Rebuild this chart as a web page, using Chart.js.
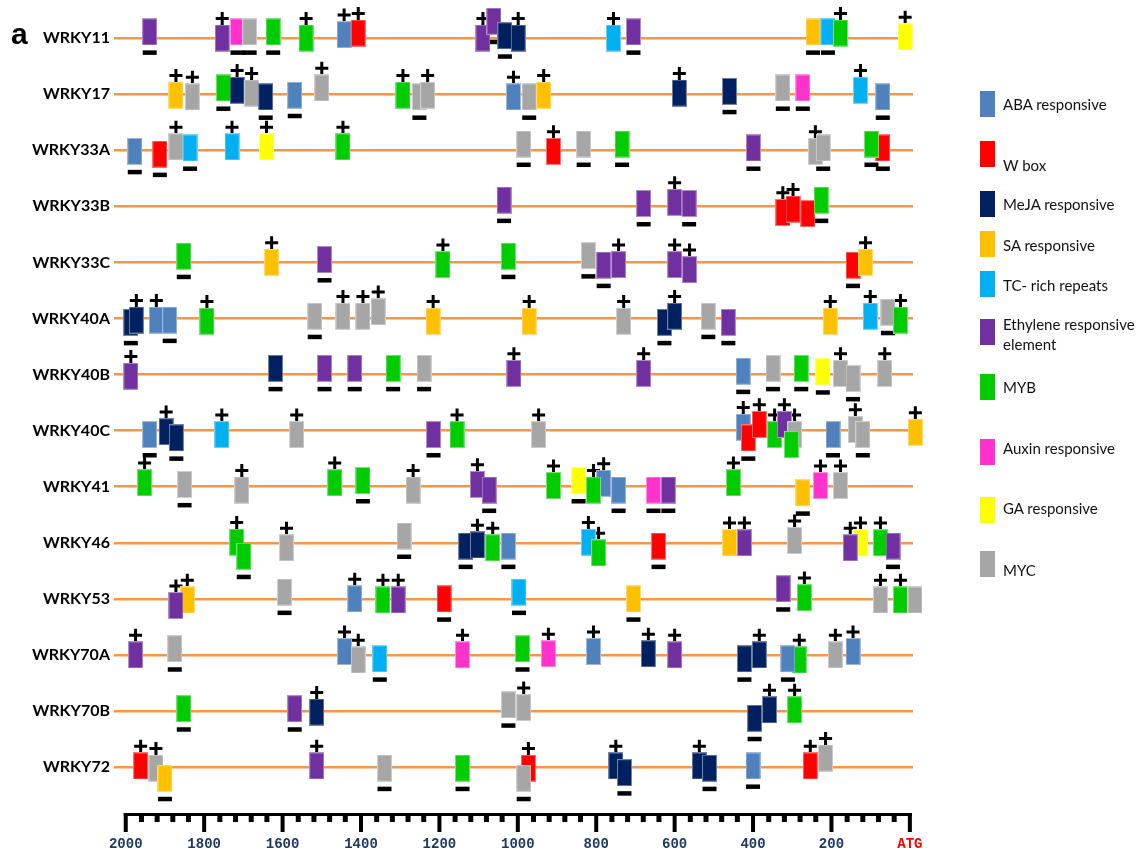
<!DOCTYPE html>
<html>
<head>
<meta charset="utf-8">
<script src="https://cdn.jsdelivr.net/npm/chart.js@4.4.1/dist/chart.umd.min.js"></script>
<style>
  body { margin: 0; background: #fff; }
  #wrap { position: relative; width: 1148px; height: 848px; }
  #panel { position: absolute; left: 11px; top: 17px; font: bold 30px "Liberation Sans", Arial, sans-serif; color: #000; }
  .sw { position: absolute; left: 980px; width: 15px; height: 26px; }
  .lt { position: absolute; left: 1003px; width: 142px; font: 15px Lato, "Open Sans", sans-serif; line-height: 20px; color: #111; }
</style>
</head>
<body>
<div id="wrap">
  <canvas id="myChart" width="1148" height="848"></canvas>
  <div id="panel">a</div>
  <div id="legend"></div>
</div>
<script>
// rows, top to bottom
const rowNames = ['WRKY11', 'WRKY17', 'WRKY33A', 'WRKY33B', 'WRKY33C', 'WRKY40A', 'WRKY40B',
                  'WRKY40C', 'WRKY41', 'WRKY46', 'WRKY53', 'WRKY70A', 'WRKY70B', 'WRKY72'];

// element types (code -> legend label / colour)
const typeCodes = ['A', 'W', 'J', 'S', 'T', 'E', 'M', 'X', 'G', 'C'];
const typeLabels = ['ABA responsive', 'W box', 'MeJA responsive', 'SA responsive', 'TC- rich repeats',
                    'Ethylene responsive element', 'MYB', 'Auxin responsive', 'GA responsive', 'MYC'];
const typeColors = ['#4F81BD', '#FF0000', '#002060', '#FFC000', '#00B0F0',
                    '#7030A0', '#00CC00', '#FF33CC', '#FFFF00', '#A6A6A6'];

// x axis labels (bp upstream of ATG)
const tickValues = [2000, 1800, 1600, 1400, 1200, 1000, 800, 600, 400, 200, 0];

// each element: [bp upstream, type, strand, lift above the line (rows)]
const wrky11 = [[1939,'E','-',0.11],[1754,'E','+',0],[1715,'X','-',0.11],[1684,'C','-',0.11],[1624,'M','-',0.11],
  [1540,'M','+',0],[1443,'A','+',0.06],[1407,'W','+',0.09],[1089,'E','+',0],[1061,'E','-',0.3],
  [1033,'J','-',0.04],[999,'J','+',0],[756,'T','+',0],[705,'E','-',0.11],[247,'S','-',0.11],
  [209,'T','-',0.11],[177,'M','+',0.09],[12,'G','+',0.02]];
const wrky17 = [[1872,'S','+',-0.02],[1830,'C','+',-0.05],[1751,'M','-',0.11],[1716,'J','+',0.07],[1679,'C','+',0.02],
  [1643,'J','-',-0.05],[1569,'A','-',-0.02],[1500,'C','+',0.11],[1293,'M','+',-0.02],[1251,'C','-',-0.05],
  [1230,'C','+',-0.02],[1011,'A','+',-0.05],[971,'C','-',-0.05],[934,'S','+',-0.02],[588,'J','+',0.02],
  [460,'J','-',0.05],[324,'C','-',0.11],[273,'X','-',0.11],[126,'T','+',0.07],[69,'A','-',-0.05]];
const wrky33a = [[1977,'A','-',-0.02],[1913,'W','-',-0.07],[1872,'C','+',0.06],[1836,'T','-',0.04],[1729,'T','+',0.06],
  [1641,'G','+',0.06],[1446,'M','+',0.06],[985,'C','-',0.11],[909,'W','+',-0.02],[832,'C','-',0.11],
  [734,'M','-',0.11],[399,'E','-',0.04],[241,'C','+',-0.02],[221,'C','-',0.04],[69,'W','-',0.04],[98,'M','-',0.11]];
const wrky33b = [[1035,'E','-',0.11],[679,'E','-',0.05],[600,'E','+',0.07],[563,'E','-',0.05],[324,'W','+',-0.11],
  [298,'W','+',-0.05],[260,'W','0',-0.13],[226,'M','-',0.11]];
const wrky33c = [[1852,'M','-',0.11],[1628,'S','+',0],[1493,'E','-',0.05],[1191,'M','+',-0.04],[1024,'M','-',0.11],
  [820,'C','-',0.12],[781,'E','-',-0.05],[743,'E','+',-0.04],[600,'E','+',-0.04],[562,'E','+',-0.13],
  [145,'W','-',-0.05],[113,'S','+',0]];
const wrky40a = [[1987,'J','-',-0.07],[1973,'J','+',-0.03],[1922,'A','+',-0.03],[1888,'A','-',-0.03],[1793,'M','+',-0.05],
  [1518,'C','-',0.04],[1446,'C','+',0.04],[1395,'C','+',0.04],[1356,'C','+',0.12],[1216,'S','+',-0.05],
  [971,'S','+',-0.05],[730,'C','+',-0.05],[626,'J','-',-0.07],[600,'J','+',0.04],[514,'C','-',0.04],
  [463,'E','-',-0.07],[203,'S','+',-0.05],[101,'T','+',0.04],[56,'C','-',0.11],[24,'M','+',-0.03]];
const wrky40b = [[1987,'E','+',-0.03],[1618,'J','-',0.11],[1493,'E','-',0.11],[1416,'E','-',0.11],[1318,'M','-',0.11],
  [1239,'C','-',0.11],[1010,'E','+',0.02],[679,'E','+',0.02],[425,'A','-',0.06],[349,'C','-',0.11],
  [277,'M','-',0.11],[222,'G','-',0.05],[177,'C','+',0.02],[145,'C','-',-0.07],[64,'C','+',0.02]];
const wrky40c = [[1939,'A','-',-0.07],[1897,'J','+',-0.02],[1871,'J','-',-0.13],[1755,'T','+',-0.07],[1564,'C','+',-0.07],
  [1215,'E','-',-0.07],[1155,'M','+',-0.07],[947,'C','+',-0.07],[425,'A','+',0.06],[412,'W','-',-0.13],
  [384,'W','+',0.11],[345,'M','+',-0.07],[320,'E','+',0.11],[294,'C','+',-0.07],[302,'M','0',-0.25],
  [196,'A','-',-0.07],[139,'C','+',0.02],[120,'C','-',-0.07],[-14,'S','+',-0.03]];
const wrky41 = [[1952,'M','+',0.07],[1850,'C','-',0.04],[1704,'C','+',-0.06],[1467,'M','+',0.07],[1395,'M','-',0.11],
  [1267,'C','+',-0.06],[1103,'E','+',0.04],[1073,'E','-',-0.06],[909,'M','+',0.02],[845,'G','-',0.11],
  [781,'A','+',0.06],[807,'M','+',-0.06],[743,'A','-',-0.06],[654,'X','-',-0.06],[616,'E','-',-0.06],
  [450,'M','+',0.07],[273,'S','-',-0.11],[228,'X','+',0.02],[177,'C','+',0.02]];
const wrky46 = [[1717,'M','+',0.01],[1699,'M','-',-0.24],[1590,'C','+',-0.09],[1290,'C','-',0.12],[1133,'J','-',-0.06],
  [1103,'J','+',-0.04],[1064,'M','+',-0.09],[1024,'A','-',-0.06],[820,'T','+',0.01],[794,'M','+',-0.18],
  [641,'W','-',-0.06],[460,'S','+',0],[422,'E','+',0],[294,'C','+',0.04],[126,'G','+',0],
  [152,'E','+',-0.09],[75,'M','+',0],[43,'E','-',-0.06]];
const wrky53 = [[1843,'S','+',-0.02],[1872,'E','+',-0.12],[1595,'C','-',0.12],[1416,'A','+',0],[1344,'M','+',-0.02],
  [1305,'E','+',-0.02],[1188,'W','-',0],[997,'T','-',0.12],[705,'S','-',0],[323,'E','-',0.18],
  [269,'M','+',0.02],[75,'C','+',-0.02],[24,'M','+',-0.02],[-13,'C','0',-0.02]];
const wrky70a = [[1975,'E','+',0],[1875,'C','-',0.11],[1442,'A','+',0.06],[1407,'C','+',-0.09],[1352,'T','-',-0.07],
  [1141,'X','+',0],[988,'M','-',0.11],[922,'X','+',0.02],[807,'A','+',0.06],[667,'J','+',0.02],
  [600,'E','+',0],[422,'J','-',-0.07],[384,'J','+',0],[282,'M','+',-0.09],[311,'A','-',-0.07],
  [190,'C','+',0],[145,'A','+',0.06]];
const wrky70b = [[1852,'M','-',0.04],[1569,'E','-',0.04],[1513,'J','+',-0.02],[1024,'C','-',0.11],[985,'C','+',0.06],
  [396,'J','-',-0.13],[358,'J','+',0.02],[294,'M','+',0.02]];
const wrky72 = [[1962,'W','+',0.02],[1923,'C','+',-0.02],[1900,'S','-',-0.2],[1513,'E','+',0.02],[1340,'C','-',-0.02],
  [1141,'M','-',-0.02],[973,'W','+',-0.02],[985,'C','-',-0.2],[750,'J','+',0.02],[728,'J','-',-0.1],
  [537,'J','+',0.02],[511,'J','-',-0.02],[400,'A','-',0.02],[254,'W','+',0.02],[215,'C','+',0.16]];

const rows = [wrky11, wrky17, wrky33a, wrky33b, wrky33c, wrky40a, wrky40b,
              wrky40c, wrky41, wrky46, wrky53, wrky70a, wrky70b, wrky72];

document.addEventListener('DOMContentLoaded', () => {

    // coloured box images used as point styles
    const swatches = {};
    typeCodes.forEach((c, i) => {
        const cv = document.createElement('canvas');
        cv.width = 15; cv.height = 27;
        const g = cv.getContext('2d');
        g.fillStyle = typeColors[i];
        g.fillRect(0, 0, 15, 27);
        g.strokeStyle = 'rgba(255,255,255,0.45)';
        g.lineWidth = 1;
        g.strokeRect(0.5, 0.5, 14, 26);
        swatches[c] = cv;
    });

    // build points
    var boxes = [], plus = [], minus = [];
    rows.forEach((row, r) => {
        row.forEach(([bp, t, s, lift]) => {
            var y = r - lift;
            boxes.push({ x: bp, y: y, t: t });
            if (s === '+') plus.push({ x: bp, y: y - 0.35 });
            if (s === '-') minus.push({ x: bp, y: y + 0.37 });
        });
    });

    // legend (html)
    const legendTops = [91, 141, 191, 231, 271, 319, 374, 439, 497, 551];
    const textShift = [0, 11, 0, 1, 1, 2, 0, -4, -2, 6];
    var lg = document.getElementById('legend');
    typeLabels.forEach((lab, i) => {
        var sw = document.createElement('div');
        sw.className = 'sw';
        sw.style.top = legendTops[i] + 'px';
        sw.style.background = typeColors[i];
        lg.appendChild(sw);
        var tx = document.createElement('div');
        tx.className = 'lt';
        tx.textContent = lab;
        var lines = lab.length > 20 ? 2 : 1;
        tx.style.top = (legendTops[i] + 13 - lines * 10 + textShift[i]) + 'px';
        lg.appendChild(tx);
    });

    // ruler ticks along the bottom axis
    const rulerPlugin = {
        id: 'ruler',
        afterDraw(chart) {
            var ctx = chart.ctx, xs = chart.scales.x, b = chart.chartArea.bottom;
            ctx.save();
            ctx.fillStyle = '#000';
            var x0 = xs.getPixelForValue(2000), x1 = xs.getPixelForValue(0);
            ctx.fillRect(x0 - 2, b - 1, x1 - x0 + 4, 3);
            for (var v = 0; v <= 2000; v += 40) {
                var px = xs.getPixelForValue(v);
                if (v % 200 === 0) ctx.fillRect(px - 2, b - 1, 4, 19);
                else ctx.fillRect(px - 2.5, b - 1, 5, 9);
            }
            ctx.restore();
        }
    };

    var ctx = document.getElementById('myChart').getContext('2d');

    var config = {
        type: 'scatter',
        data: {
            datasets: [{
                label: 'elements',
                data: boxes,
                pointStyle: (c) => c.raw ? swatches[c.raw.t] : 'rect',
                pointRadius: 8,
                pointHoverRadius: 8,
                clip: false
            }, {
                label: 'plus',
                data: plus,
                pointStyle: 'cross',
                pointRadius: 6.5,
                pointBorderWidth: 3,
                pointBorderColor: '#000',
                pointBackgroundColor: '#000',
                clip: false
            }, {
                label: 'minus',
                data: minus,
                pointStyle: 'line',
                pointRadius: 7,
                pointBorderWidth: 4.5,
                pointBorderColor: '#000',
                clip: false
            }]
        },
        options: {
            responsive: false,
            animation: false,
            devicePixelRatio: 1,
            layout: { padding: { top: 2, right: 235, left: 0, bottom: 0 } },
            plugins: {
                legend: { display: false },
                tooltip: { enabled: false }
            },
            scales: {
                x: {
                    type: 'linear',
                    min: -8,
                    max: 2030,
                    reverse: true,
                    grid: { display: false },
                    border: { display: false },
                    afterBuildTicks: (s) => { s.ticks = tickValues.map(v => ({ value: v })); },
                    afterFit: (s) => { s.height = 34; },
                    ticks: {
                        autoSkip: false,
                        maxRotation: 0,
                        padding: 14,
                        callback: (v) => v === 0 ? 'ATG' : String(v),
                        color: (c) => c.tick && c.tick.value === 0 ? '#FF0000' : '#1F3864',
                        font: { family: 'Liberation Mono', weight: 'bold', size: 14 }
                    }
                },
                y: {
                    type: 'linear',
                    reverse: true,
                    min: -0.436,
                    max: 13.837,
                    grid: { color: '#F79646', lineWidth: 2.5, drawTicks: false },
                    border: { display: false },
                    afterBuildTicks: (s) => { s.ticks = rowNames.map((n, i) => ({ value: i })); },
                    afterFit: (s) => { s.width = 114; },
                    ticks: {
                        autoSkip: false,
                        padding: 4,
                        callback: (v) => rowNames[v],
                        color: '#000',
                        font: { family: 'Lato', weight: 'bold', size: 16 }
                    }
                }
            }
        },
        plugins: [rulerPlugin]
    };

    var myChart = new Chart(ctx, config);
});
</script>
</body>
</html>
